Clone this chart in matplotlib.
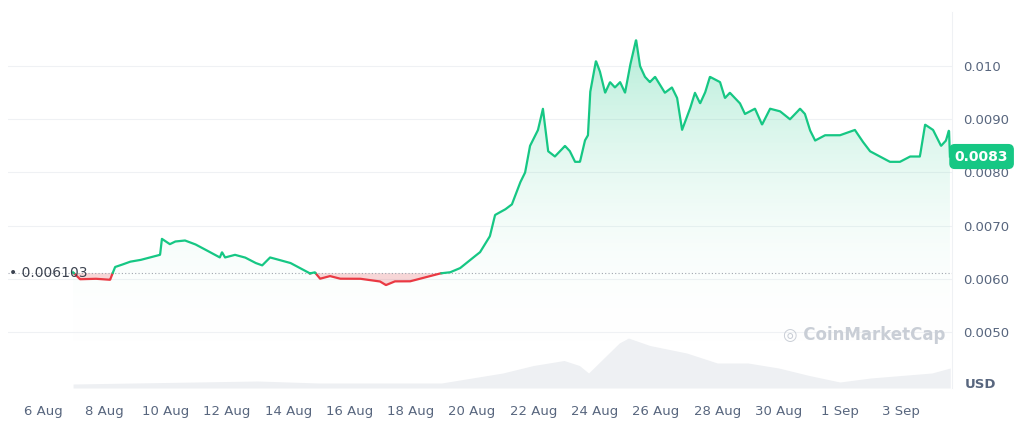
import numpy as np
import matplotlib
matplotlib.use("Agg")
import matplotlib.pyplot as plt
from matplotlib.patches import Polygon
from matplotlib.colors import LinearSegmentedColormap

# days since 6 Aug
days = [0.98,1.21,1.70,2.19,2.35,2.51,2.84,3.16,3.49,3.82,3.88,4.14,4.31,4.63,4.96,5.12,5.45,5.77,5.84,5.94,
        6.26,6.59,6.92,7.15,7.41,7.73,8.06,8.39,8.71,8.87,9.04,9.36,9.69,10.34,10.99,11.19,11.48,11.97,12.30,12.95,
        13.28,13.61,13.93,14.26,14.58,14.75,15.07,15.30,15.56,15.73,15.89,16.15,16.31,16.48,16.70,16.87,17.03,17.19,17.36,17.52,
        17.68,17.78,17.85,18.04,18.17,18.34,18.50,18.66,18.83,18.99,19.15,19.35,19.48,19.64,19.80,19.97,20.29,20.52,20.69,20.85,
        21.11,21.27,21.44,21.60,21.76,22.09,22.25,22.41,22.74,22.90,23.23,23.46,23.72,24.05,24.37,24.54,24.70,24.86,25.02,25.19,
        25.51,26.00,26.49,26.72,26.98,27.31,27.63,27.96,28.29,28.61,28.78,29.04,29.30,29.46,29.56,29.59]
prices = [0.00612,0.00599,0.00600,0.00598,0.00622,0.00625,0.00632,0.00635,0.00640,0.00645,0.00675,0.00665,0.00670,0.00672,0.00665,0.00660,0.00650,0.00640,0.00650,0.00640,
          0.00645,0.00640,0.00630,0.00625,0.00640,0.00635,0.00630,0.00620,0.00610,0.00612,0.00600,0.00605,0.00600,0.00600,0.00595,0.00588,0.00595,0.00595,0.00600,0.00610,
          0.00612,0.00620,0.00635,0.00650,0.00680,0.00720,0.00730,0.00740,0.00780,0.00800,0.00850,0.00880,0.00920,0.00840,0.00830,0.00840,0.00850,0.00840,0.00820,0.00820,
          0.00860,0.00870,0.00950,0.01010,0.00990,0.00950,0.00970,0.00960,0.00970,0.00950,0.01000,0.01050,0.01000,0.00980,0.00970,0.00980,0.00950,0.00960,0.00940,0.00880,
          0.00920,0.00950,0.00930,0.00950,0.00980,0.00970,0.00940,0.00950,0.00930,0.00910,0.00920,0.00890,0.00920,0.00915,0.00900,0.00910,0.00920,0.00910,0.00880,0.00860,
          0.00870,0.00870,0.00880,0.00860,0.00840,0.00830,0.00820,0.00820,0.00830,0.00830,0.00890,0.00880,0.00850,0.00860,0.00880,0.00830]
vol_days = [0.98,3,5,7,9,11,13,14,15,16,17,17.5,17.8,18.3,18.8,19.1,19.8,21,22,23,24,25,26,27,28,29,29.6]
vol = [0.08,0.1,0.12,0.14,0.1,0.1,0.1,0.2,0.3,0.45,0.55,0.45,0.3,0.6,0.9,1.0,0.85,0.7,0.5,0.5,0.4,0.25,0.12,0.2,0.25,0.3,0.4]
tick_days = [0,2,4,6,8,10,12,14,16,18,20,22,24,26,28]
tick_labels = ["6 Aug","8 Aug","10 Aug","12 Aug","14 Aug","16 Aug","18 Aug","20 Aug","22 Aug","24 Aug","26 Aug","28 Aug","30 Aug","1 Sep","3 Sep"]
ytick_vals = [0.005,0.006,0.007,0.008,0.009,0.010]
ytick_labels = ["0.0050","0.0060","0.0070","0.0080","0.0090","0.010"]
baseline = 0.006103
last_price = "0.0083"

GREEN = "#16c784"; RED = "#ea3943"
fig = plt.figure(figsize=(10.23, 4.32), dpi=100)
ax = fig.add_axes([8/1023, 44/432, 944/1023, 376/432])
x0, x1 = -35/30.65, 909/30.65
y0, y1 = 0.003943, 0.01102
ax.set_xlim(x0, x1); ax.set_ylim(y0, y1)

d = np.array(days); p = np.array(prices)
dd = np.linspace(d[0], d[-1], 3000); pp = np.interp(dd, d, p)

axv = ax.twinx()
axv.set_ylim(0, 376/50); axv.set_xlim(x0, x1)
axv.fill_between(vol_days, vol, 0, color="#eef0f3", lw=0, zorder=0)
axv.axis("off")
ax.set_zorder(axv.get_zorder()+1); ax.patch.set_visible(False)

grad = np.linspace(0, 1, 256).reshape(-1, 1)
cmap = LinearSegmentedColormap.from_list("g", [(1,1,1,0), (0.086,0.78,0.52,0.32)])
im = ax.imshow(grad, extent=[x0, x1, y0+0.0008, 0.0105], origin="lower", aspect="auto", cmap=cmap, zorder=1)
poly = Polygon(np.column_stack([np.r_[dd, dd[-1], dd[0]], np.r_[np.maximum(pp, baseline), y0, y0]]), closed=True, transform=ax.transData, visible=False)
ax.add_patch(poly); im.set_clip_path(poly)
ax.fill_between(dd, pp, baseline, where=pp < baseline, color=RED, alpha=0.2, lw=0, zorder=2)

pg = np.where(pp >= baseline, pp, np.nan); pr = np.where(pp <= baseline, pp, np.nan)
ax.plot(dd, pr, color=RED, lw=1.6, zorder=4)
ax.plot(dd, pg, color=GREEN, lw=1.6, zorder=4)
ax.axhline(baseline, color="#a0a6b0", lw=0.8, ls=(0, (1, 2)), zorder=3)

for v in ytick_vals:
    ax.axhline(v, color="#eff1f4", lw=0.8, zorder=0)
for s in ["left", "top", "bottom"]:
    ax.spines[s].set_visible(False)
ax.spines["right"].set_color("#eff1f4")
ax.yaxis.tick_right()
ax.set_yticks(ytick_vals, ytick_labels)
ax.set_xticks(tick_days, tick_labels)
ax.tick_params(length=0, colors="#58667e", labelsize=9.5)
ax.tick_params(axis="x", pad=12)
ax.tick_params(axis="y", pad=8)

ax.text(-1.12, baseline, "• 0.006103", fontsize=10, color="#3c4350", va="center", ha="left", zorder=5)
ax.text(1.003, (p[-1]-y0)/(y1-y0), last_price, transform=ax.transAxes, fontsize=10, color="white",
        fontweight="bold", va="center", ha="left",
        bbox=dict(boxstyle="round,pad=0.35", fc=GREEN, ec=GREEN))
fig.text(980/1023, 1-384/432, "USD", fontsize=9.5, color="#58667e", fontweight="bold", va="center", ha="center")
fig.text(783/1023, 1-335/432, "◎ CoinMarketCap", fontsize=12, color="#c9ced6", fontweight="bold", va="center", ha="left")
fig.savefig("out.png", dpi=100)
